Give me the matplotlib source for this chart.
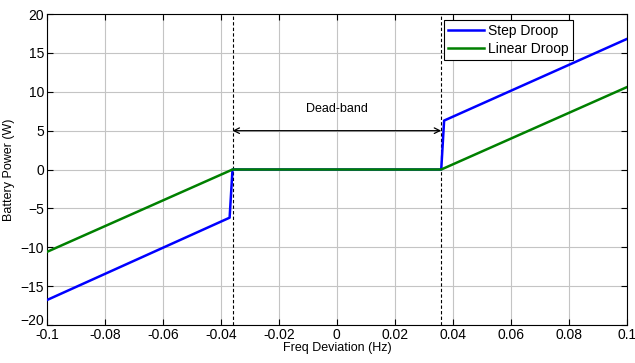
import matplotlib
matplotlib.use("Agg")
import matplotlib.pyplot as plt
import matplotlib.transforms as mtransforms

plt.rcParams['font.family'] = ['Liberation Sans', 'DejaVu Sans']

# Data
step_x = [-0.1, -0.037, -0.036, 0.036, 0.037, 0.1]
step_y = [-16.8, -6.2, 0.0, 0.0, 6.3, 16.8]
lin_x = [-0.1, -0.036, 0.036, 0.1]
lin_y = [-10.6, 0.0, 0.0, 10.6]
deadband = [-0.036, 0.036]
xticks = [-0.1, -0.08, -0.06, -0.04, -0.02, 0, 0.02, 0.04, 0.06, 0.08, 0.1]
xticklabels = ['-0.1', '-0.08', '-0.06', '-0.04', '-0.02', '0', '0.02', '0.04', '0.06', '0.08', '0.1']
yticks = [-20, -15, -10, -5, 0, 5, 10, 15, 20]

fig = plt.figure(figsize=(6.35, 3.63), dpi=100)
ax = fig.add_axes([0.074, 0.105, 0.913, 0.856])

ax.plot(step_x, step_y, color='#0000ff', lw=1.8, label='Step Droop', zorder=4)
ax.plot(lin_x, lin_y, color='#008000', lw=1.8, label='Linear Droop', zorder=5)

for xd in deadband:
    ax.axvline(xd, color='black', ls=(0, (3, 2)), lw=0.8, zorder=3)

ax.annotate('', xy=(deadband[0], 5), xytext=(deadband[1], 5),
            arrowprops=dict(arrowstyle='<->', color='black', lw=0.9,
                            shrinkA=0, shrinkB=0), zorder=6)
ax.text(0, 7.8, 'Dead-band', ha='center', va='center', fontsize=9)

ax.set_xlim(-0.1, 0.1)
ax.set_ylim(-20, 20)
ax.set_xticks(xticks)
ax.set_xticklabels(xticklabels)
ax.set_yticks(yticks)
ax.tick_params(direction='in', top=True, right=True, labelsize=10, length=4, pad=2)
ax.grid(True, color='#c4c4c4', lw=0.8, ls='-')
ax.set_axisbelow(True)
for s in ax.spines.values():
    s.set_linewidth(0.8)

# nudge the bottom y tick label up slightly, as in the reference
lab = ax.get_yticklabels()[0]
lab.set_transform(lab.get_transform() + mtransforms.ScaledTranslation(0, 5 / 100, fig.dpi_scale_trans))

ax.set_xlabel('Freq Deviation (Hz)', fontsize=9, labelpad=0)
ax.set_ylabel('Battery Power (W)', fontsize=9, labelpad=4)

leg = ax.legend(loc='upper right', bbox_to_anchor=(0.907, 0.981), fontsize=10,
                fancybox=False, framealpha=1, edgecolor='black',
                handlelength=2.6, handletextpad=0.3, borderpad=0.3,
                labelspacing=0.25, borderaxespad=0)
leg.get_frame().set_linewidth(0.8)

fig.savefig('out.png', dpi=100)
